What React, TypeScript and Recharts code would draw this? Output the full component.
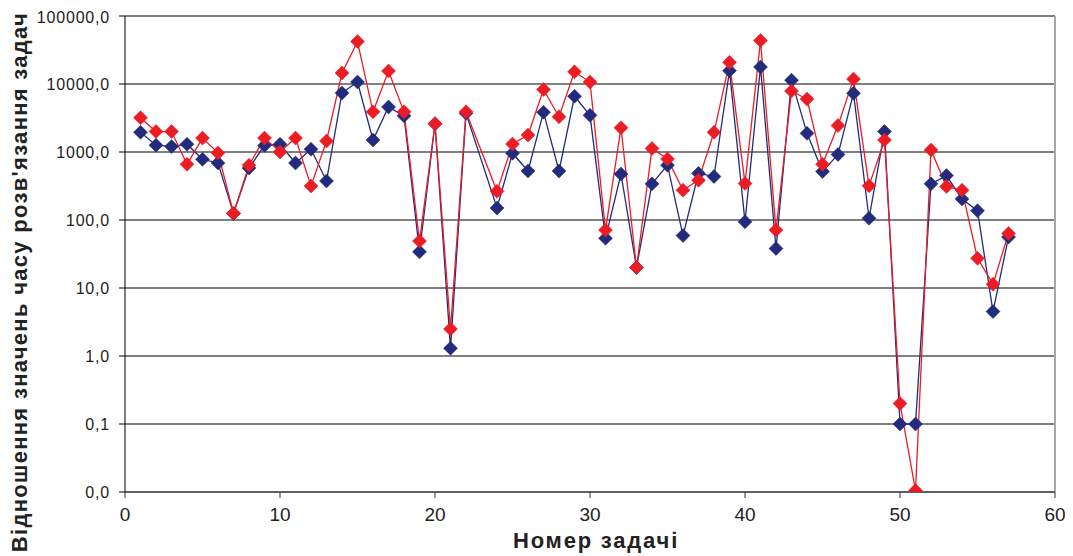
import React from "react";
import { LineChart, Line, XAxis, YAxis, CartesianGrid, ReferenceLine } from "recharts";

const taskNumbers = [
  1, 2, 3, 4, 5, 6, 7, 8, 9, 10, 11, 12, 13, 14, 15, 16, 17, 18, 19, 20, 21, 22,
  24, 25, 26, 27, 28, 29, 30, 31, 32, 33, 34, 35, 36, 37, 38, 39, 40, 41, 42, 43,
  44, 45, 46, 47, 48, 49, 50, 51, 52, 53, 54, 55, 56, 57,
];

const blueValues = [
  1950, 1260, 1200, 1300, 780, 690, 125, 580, 1250, 1300, 690, 1100, 375, 7400, 10700, 1500, 4600, 3400, 34, 2600, 1.3, 3700,
  150, 960, 525, 3850, 525, 6600, 3460, 54, 475, 20, 340, 640, 59, 485, 435, 15700, 94, 17800, 38, 11400,
  1880, 515, 920, 7300, 106, 2000, 0.1, 0.1, 340, 450, 204, 137, 4.5, 56,
];

const redValues = [
  3200, 2000, 2000, 660, 1600, 970, 126, 640, 1600, 1000, 1600, 316, 1450, 14500, 42000, 3900, 15500, 3900, 49, 2600, 2.5, 3900,
  264, 1310, 1780, 8300, 3300, 15100, 10700, 71, 2270, 20, 1130, 790, 275, 385, 1950, 20800, 345, 43500, 71, 7900,
  6000, 660, 2450, 11800, 318, 1500, 0.2, 0.0105, 1070, 310, 275, 27.3, 11.4, 63.5,
];

const xTicks = [0, 10, 20, 30, 40, 50, 60];
const yTicks = [0.01, 0.1, 1, 10, 100, 1000, 10000, 100000];

const data = taskNumbers.map((n, i) => ({ n, blue: blueValues[i], red: redValues[i] }));

const BLUE = "#232B7D";
const RED = "#EC1C24";
const FONT = "'Liberation Sans', Arial, sans-serif";

const makeDiamond = (color: string) => (props: any) => {
  const { cx, cy, index } = props;
  if (cx == null || cy == null) return <g key={index} />;
  const r = 7;
  return (
    <path
      key={index}
      d={`M${cx},${cy - r} L${cx + r},${cy} L${cx},${cy + r} L${cx - r},${cy} Z`}
      fill={color}
      stroke={color}
      strokeWidth={0.5}
    />
  );
};

const fmtY = (v: number) => v.toFixed(1).replace(".", ",");

export default function App() {
  return (
    <div style={{ width: 1060, height: 548, fontFamily: FONT }}>
      <LineChart
        width={1060}
        height={548}
        data={data}
        margin={{ top: 8, right: 13, bottom: 0, left: 0 }}
      >
        <CartesianGrid horizontal={true} vertical={false} stroke="#808080" strokeWidth={2} />
        <ReferenceLine x={60} stroke="#a8a8a8" strokeWidth={2} />
        <XAxis
          dataKey="n"
          type="number"
          domain={[0, 60]}
          ticks={xTicks}
          height={64}
          axisLine={{ stroke: "#606060", strokeWidth: 2 }}
          tickLine={{ stroke: "#333" }}
          tickSize={6}
          tickMargin={10}
          tick={{ fontSize: 19, fill: "#222", fontFamily: FONT }}
          label={{
            content: () => (
              <text
                x={588}
                y={540}
                textAnchor="middle"
                fontSize={22}
                fontWeight="bold"
                fill="#222"
                letterSpacing={1.8}
                fontFamily={FONT}
              >
                Номер задачі
              </text>
            ),
          }}
        />
        <YAxis
          scale="log"
          domain={[0.01, 100000]}
          ticks={yTicks}
          allowDataOverflow
          width={117}
          axisLine={{ stroke: "#000", strokeWidth: 1 }}
          tickLine={{ stroke: "#000" }}
          tickSize={6}
          tickMargin={9}
          tickFormatter={fmtY}
          tick={{ fontSize: 16, fill: "#222", fontFamily: FONT, letterSpacing: 0.8 }}
          label={{
            content: () => (
              <text
                x={0}
                y={0}
                transform="translate(19, 274) rotate(-90)"
                textAnchor="middle"
                fontSize={22}
                fontWeight="bold"
                fill="#222"
                letterSpacing={1.3}
                fontFamily={FONT}
              >
                Відношення значень часу розв'язання задач
              </text>
            ),
          }}
        />
        <Line
          dataKey="blue"
          stroke={BLUE}
          strokeWidth={1.3}
          dot={makeDiamond(BLUE)}
          activeDot={false}
          isAnimationActive={false}
        />
        <Line
          dataKey="red"
          stroke={RED}
          strokeWidth={1.3}
          dot={makeDiamond(RED)}
          activeDot={false}
          isAnimationActive={false}
        />
      </LineChart>
    </div>
  );
}
